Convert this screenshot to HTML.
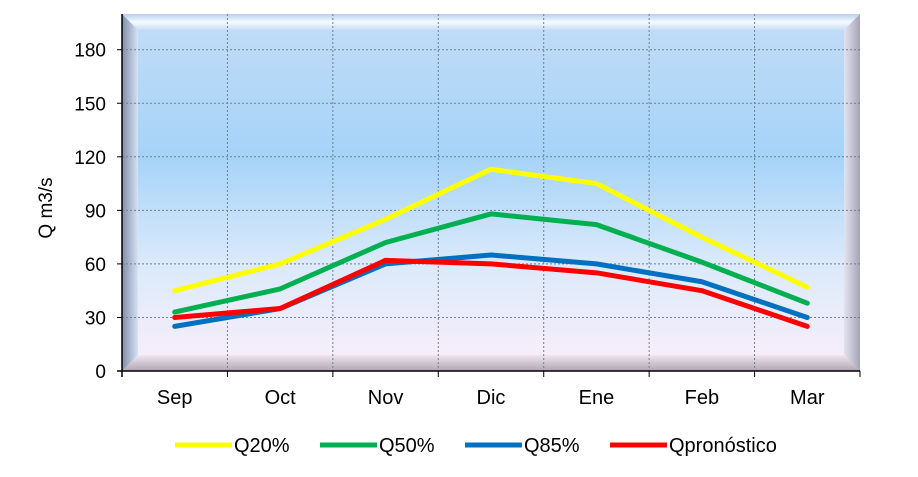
<!DOCTYPE html>
<html><head><meta charset="utf-8"><style>
body{margin:0;background:#fff;width:918px;height:472px;overflow:hidden;font-family:"Liberation Sans",Arial,sans-serif}
</style></head><body>
<svg id="chart" width="918" height="472" xmlns="http://www.w3.org/2000/svg" font-family="Liberation Sans, Arial, sans-serif">
<defs>
<linearGradient id="bg" x1="0" y1="0" x2="0" y2="1">
<stop offset="0" stop-color="#c3dcf6"/>
<stop offset="0.4" stop-color="#a5d3f8"/>
<stop offset="0.7" stop-color="#dbeafa"/>
<stop offset="1" stop-color="#fbeefa"/>
</linearGradient>
<linearGradient id="btop" x1="0" y1="0" x2="0" y2="1"><stop offset="0" stop-color="#b4d0f0"/><stop offset="0.5" stop-color="#f6faff"/><stop offset="1" stop-color="#c6def6"/></linearGradient>
<linearGradient id="bbot" x1="0" y1="0" x2="0" y2="1"><stop offset="0" stop-color="#f0e6f0"/><stop offset="1" stop-color="#b0a6b2"/></linearGradient>
<linearGradient id="bleft" x1="0" y1="0" x2="1" y2="0"><stop offset="0" stop-color="#7f8ea8"/><stop offset="1" stop-color="#d6e2f4"/></linearGradient>
<linearGradient id="bright" x1="0" y1="0" x2="1" y2="0"><stop offset="0" stop-color="#e4e4f0"/><stop offset="1" stop-color="#a4a4b6"/></linearGradient>
</defs>
<g id="plot"></g>
</svg>
<script>
const categories=["Sep","Oct","Nov","Dic","Ene","Feb","Mar"];
const q20=[45,60,85,113,105,75,47];
const q50=[33,46,72,88,82,61,38];
const q85=[25,35,60,65,60,50,30];
const qpron=[30,35,62,60,55,45,25];
const yTicks=[0,30,60,90,120,150,180];
const seriesNames=["Q20%","Q50%","Q85%","Qpronóstico"];
const L=122,R=860,T=14,B=371,YMAX=200,b=16;
const NS="http://www.w3.org/2000/svg";
const g=document.getElementById('plot');
function y(v){return B-(v/YMAX)*(B-T);}
function x(i){return L+(i+0.5)*(R-L)/categories.length;}
function mk(t,a,p){const e=document.createElementNS(NS,t);for(const k in a)e.setAttribute(k,a[k]);(p||g).appendChild(e);return e;}
let e=mk('rect',{x:L,y:T,width:R-L,height:B-T,fill:'url(#bg)'});

mk('polygon',{points:`${L},${T} ${R},${T} ${R-b},${T+b} ${L+b},${T+b}`,fill:'url(#btop)'});
mk('polygon',{points:`${L},${B} ${R},${B} ${R-b},${B-b} ${L+b},${B-b}`,fill:'url(#bbot)'});
mk('polygon',{points:`${L},${T} ${L+b},${T+b} ${L+b},${B-b} ${L},${B}`,fill:'url(#bleft)'});
mk('polygon',{points:`${R},${T} ${R-b},${T+b} ${R-b},${B-b} ${R},${B}`,fill:'url(#bright)'});
yTicks.forEach(v=>{if(v>0){e=mk('line',{x1:L,x2:R,y1:y(v),y2:y(v),stroke:'#6f7f90','stroke-width':1,'stroke-dasharray':'2,2'});
}
e=mk('line',{x1:L-5,x2:L,y1:y(v),y2:y(v),stroke:'#000'});

e=mk('text',{x:L-16,y:y(v)+7,'text-anchor':'end','font-size':19,fill:'#000'});e.textContent=v;
});
for(let i=1;i<=categories.length;i++){const xx=L+i*(R-L)/categories.length;
if(i<categories.length){e=mk('line',{x1:xx,x2:xx,y1:T,y2:B,stroke:'#6f7f90','stroke-dasharray':'2,2'});
}
e=mk('line',{x1:xx,x2:xx,y1:B,y2:B+6,stroke:'#000'});
}
categories.forEach((c,i)=>{e=mk('text',{x:x(i),y:404,'text-anchor':'middle','font-size':20});e.textContent=c;
});
e=mk('line',{x1:L,x2:L,y1:T,y2:B+6,stroke:'#000','stroke-width':1.5});

e=mk('line',{x1:L-5,x2:R,y1:B,y2:B,stroke:'#000','stroke-width':1.5});

e=mk('text',{x:0,y:0,transform:'translate(52,208) rotate(-90)','text-anchor':'middle','font-size':19});e.textContent='Q m3/s';

const data=[q20,q50,q85,qpron],colors=['#ffff00','#00b050','#0070c0','#ff0000'];
data.forEach((d,s)=>{e=mk('polyline',{points:d.map((v,i)=>x(i)+','+y(v)).join(' '),fill:'none',stroke:colors[s],'stroke-width':5,'stroke-linejoin':'round','stroke-linecap':'round'});
});
const lx=[175,320,465,610];
seriesNames.forEach((n,s)=>{const lg=mk('g',{});

mk('line',{x1:lx[s],x2:lx[s]+57,y1:445,y2:445,stroke:colors[s],'stroke-width':5},lg);
const t=mk('text',{x:lx[s]+59,y:452,'font-size':20},lg);t.textContent=n;});
</script>
</body></html>
